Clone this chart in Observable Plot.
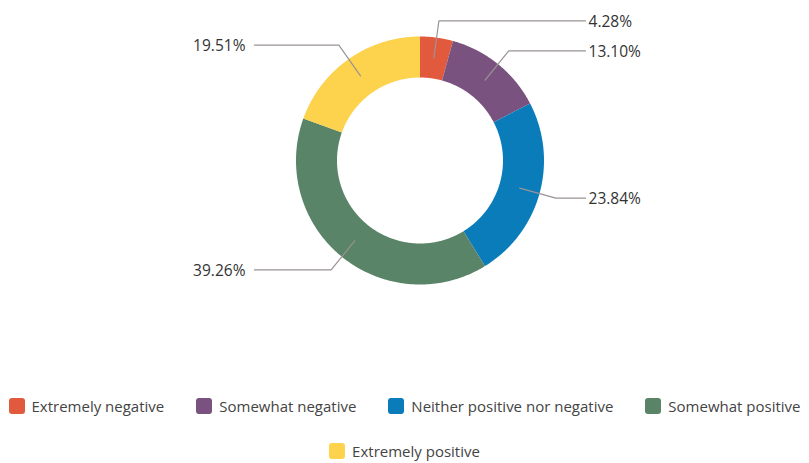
<!DOCTYPE html>
<html>
<head>
<meta charset="utf-8">
<script src="https://cdn.jsdelivr.net/npm/d3@7"></script>
<script src="https://cdn.jsdelivr.net/npm/@observablehq/plot@0.6"></script>
<style>
  html, body { margin: 0; padding: 0; background: #fff; }
  #chart { width: 809px; }
  .legend { width: 809px; display: flex; flex-wrap: wrap; justify-content: center; column-gap: 32px; row-gap: 25px; padding-top: 16px;
    font-family: "Open Sans", "Liberation Sans", sans-serif; font-size: 15px; color: #444; }
  .legend .item { display: flex; align-items: center; height: 20px; line-height: 20px; white-space: nowrap; }
  .legend .sw { width: 16px; height: 16px; border-radius: 3px; margin-right: 7px; }
</style>
</head>
<body>
<div id="chart"></div>
<script>
// ---- data ----
const categories = ["Extremely negative", "Somewhat negative", "Neither positive nor negative", "Somewhat positive", "Extremely positive"];
const values = [4.28, 13.10, 23.84, 39.26, 19.51];
const valueLabels = ["4.28%", "13.10%", "23.84%", "39.26%", "19.51%"];
const colors = ["#E15A3E", "#7A527F", "#0A7CB9", "#5A8467", "#FDD24C"];

// ---- layout constants ----
const W = 809, H = 380;
const PX = 124;              // pixels per unit radius
const CX = 419.5, CY = 160;  // centre in pixels
const rOuter = 1, rInner = 83 / 124, rMid = (1 + 83 / 124) / 2;
const rElbow = 1.137, xEnd = 1.335;

const table = categories.map((c, i) => ({cat: c, value: values[i], label: valueLabels[i]}));
const arcs = d3.pie().sort(null).value(d => d.value)(table);

// slice polygons (outer arc then inner arc back)
const slicePts = [];
for (const a of arcs) {
  const n = Math.max(4, Math.ceil((a.endAngle - a.startAngle) / 0.01));
  for (let k = 0; k <= n; k++) {
    const t = a.startAngle + (a.endAngle - a.startAngle) * k / n;
    slicePts.push({cat: a.data.cat, x: rOuter * Math.sin(t), y: rOuter * Math.cos(t)});
  }
  for (let k = n; k >= 0; k--) {
    const t = a.startAngle + (a.endAngle - a.startAngle) * k / n;
    slicePts.push({cat: a.data.cat, x: rInner * Math.sin(t), y: rInner * Math.cos(t)});
  }
}

// leader lines & labels
const leaderPts = [];
const labelRows = [];
for (const a of arcs) {
  const m = (a.startAngle + a.endAngle) / 2;
  const s = Math.sin(m), c = Math.cos(m);
  const side = s >= 0 ? 1 : -1;
  const ey = rElbow * c;
  leaderPts.push({cat: a.data.cat, x: rMid * s, y: rMid * c});
  leaderPts.push({cat: a.data.cat, x: rElbow * s, y: ey});
  leaderPts.push({cat: a.data.cat, x: side * xEnd, y: ey});
  labelRows.push({label: a.data.label, x: side * xEnd, y: ey, side});
}

const font = "Open Sans, Liberation Sans, sans-serif";
const plot = Plot.plot({
  width: W, height: H,
  margin: 0,
  x: {domain: [-CX / PX, (W - CX) / PX], axis: null},
  y: {domain: [(CY - H) / PX, CY / PX], axis: null},
  color: {domain: categories, range: colors},
  marks: [
    Plot.line(slicePts, {x: "x", y: "y", z: "cat", fill: "cat", stroke: "none", curve: "linear-closed"}),
    Plot.line(leaderPts, {x: "x", y: "y", z: "cat", stroke: "#9a9494", strokeWidth: 1.2}),
    Plot.text(labelRows.filter(d => d.side > 0), {x: "x", y: "y", text: "label", textAnchor: "start", dx: 3, dy: 1,
      fill: "#333", fontSize: 15.5, fontFamily: font}),
    Plot.text(labelRows.filter(d => d.side < 0), {x: "x", y: "y", text: "label", textAnchor: "end", dx: -9, dy: 1,
      fill: "#333", fontSize: 15.5, fontFamily: font})
  ]
});
document.getElementById("chart").appendChild(plot);

// legend
const legend = document.createElement("div");
legend.className = "legend";
categories.forEach((c, i) => {
  const item = document.createElement("div");
  item.className = "item";
  const sw = document.createElement("span");
  sw.className = "sw";
  sw.style.background = colors[i];
  const tx = document.createElement("span");
  tx.textContent = c;
  item.appendChild(sw);
  item.appendChild(tx);
  legend.appendChild(item);
});
document.getElementById("chart").appendChild(legend);
</script>
</body>
</html>
